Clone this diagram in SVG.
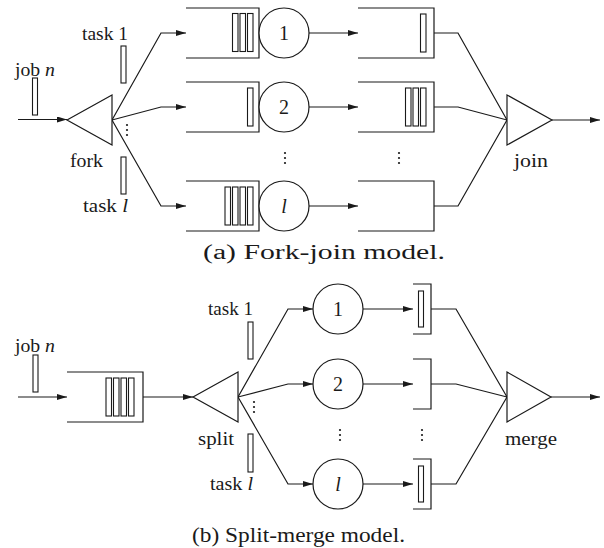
<svg xmlns="http://www.w3.org/2000/svg" width="604" height="548" viewBox="0 0 604 548">
  <style>
    .ln { fill: none; stroke: #1a1a1a; stroke-width: 1.2; }
    .arr { fill: none; stroke: #1a1a1a; stroke-width: 1.2; marker-end: url(#ah); }
    .shape { fill: #fff; stroke: #1a1a1a; stroke-width: 1.2; }
    .tok { fill: #fff; stroke: #1a1a1a; stroke-width: 1.1; }
    .lbl { font-family: "Liberation Serif", "Times New Roman", serif; font-size: 18.5px; fill: #1a1a1a; }
    .num { font-family: "Liberation Serif", "Times New Roman", serif; font-size: 20px; fill: #1a1a1a; text-anchor: middle; }
    .cap { font-family: "Liberation Serif", "Times New Roman", serif; font-size: 20px; fill: #1a1a1a; }
    .dot { fill: #1a1a1a; }
  </style>
  <defs>
    <marker id="ah" viewBox="0 0 10 6" refX="10" refY="3" markerWidth="10" markerHeight="6" markerUnits="userSpaceOnUse" orient="auto">
      <path d="M0,0 L10,3 L0,6 Z" fill="#1a1a1a"/>
    </marker>
    <g id="vdots">
      <circle cx="0" cy="0" r="1.1"/>
      <circle cx="0" cy="5" r="1.1"/>
      <circle cx="0" cy="10" r="1.1"/>
    </g>
    <rect id="tk" x="0" y="0" width="5.5" height="38"/>
  </defs>

  <!-- ================= (a) Fork-join model ================= -->
  <g id="connectors-a">
    <line class="arr" x1="18" y1="119.5" x2="67" y2="119.5"/>
    <polyline class="arr" points="112,120 161,33 186,33"/>
    <polyline class="arr" points="112,120 161,107 186,107"/>
    <polyline class="arr" points="112,120 161,206 186,206"/>
    <line class="arr" x1="309" y1="33" x2="358" y2="33"/>
    <line class="arr" x1="309" y1="107" x2="358" y2="107"/>
    <line class="arr" x1="309" y1="206" x2="358" y2="206"/>
    <polyline class="ln" points="434,33 458,33 507,120"/>
    <polyline class="ln" points="434,107 458,107 507,120"/>
    <polyline class="ln" points="434,206 458,206 507,120"/>
    <line class="arr" x1="552" y1="120" x2="600" y2="120"/>
  </g>

  <g id="job-a">
    <text class="lbl" x="15" y="76" textLength="40" lengthAdjust="spacingAndGlyphs">job <tspan font-style="italic">n</tspan></text>
    <rect class="tok" x="32.5" y="78" width="5" height="37"/>
  </g>

  <g id="fork">
    <polygon class="shape" points="67,120 112,95 112,145"/>
    <text class="lbl" x="70" y="167" textLength="33" lengthAdjust="spacingAndGlyphs">fork</text>
    <g class="dot"><use href="#vdots" x="127" y="125"/></g>
  </g>

  <g id="task1-a">
    <text class="lbl" x="82" y="40" textLength="46" lengthAdjust="spacingAndGlyphs">task 1</text>
    <rect class="tok" x="121" y="46" width="5" height="37"/>
  </g>
  <g id="taskl-a">
    <rect class="tok" x="121" y="157" width="5" height="37"/>
    <text class="lbl" x="83" y="212" textLength="45" lengthAdjust="spacingAndGlyphs">task <tspan font-style="italic">l</tspan></text>
  </g>

  <g id="queue1-a">
    <polyline class="ln" points="186,8 259,8 259,58 186,58"/>
    <use href="#tk" class="tok" x="232.5" y="13.5"/>
    <use href="#tk" class="tok" x="240" y="13.5"/>
    <use href="#tk" class="tok" x="247.5" y="13.5"/>
  </g>
  <g id="server1-a">
    <circle class="shape" cx="284" cy="33" r="25"/>
    <text class="num" x="284" y="40">1</text>
  </g>

  <g id="queue2-a">
    <polyline class="ln" points="186,82 259,82 259,132 186,132"/>
    <use href="#tk" class="tok" x="247.5" y="88"/>
  </g>
  <g id="server2-a">
    <circle class="shape" cx="284" cy="107" r="25"/>
    <text class="num" x="284" y="114">2</text>
  </g>

  <g id="queuel-a">
    <polyline class="ln" points="186,181 259,181 259,231 186,231"/>
    <use href="#tk" class="tok" x="225" y="187"/>
    <use href="#tk" class="tok" x="232.5" y="187"/>
    <use href="#tk" class="tok" x="240" y="187"/>
    <use href="#tk" class="tok" x="247.5" y="187"/>
  </g>
  <g id="serverl-a">
    <circle class="shape" cx="284" cy="206" r="25"/>
    <text class="num" x="284" y="213" font-style="italic">l</text>
  </g>

  <g class="dot"><use href="#vdots" x="285" y="153"/></g>

  <g id="buffer1-a">
    <polyline class="ln" points="358,8 434,8 434,58 358,58"/>
    <use href="#tk" class="tok" x="420.5" y="14"/>
  </g>
  <g id="buffer2-a">
    <polyline class="ln" points="358,82 434,82 434,132 358,132"/>
    <use href="#tk" class="tok" x="405.5" y="88"/>
    <use href="#tk" class="tok" x="413" y="88"/>
    <use href="#tk" class="tok" x="420.5" y="88"/>
  </g>
  <g id="bufferl-a">
    <polyline class="ln" points="358,181 434,181 434,231 358,231"/>
  </g>

  <g class="dot"><use href="#vdots" x="399" y="153"/></g>

  <g id="join">
    <polygon class="shape" points="507,95 507,145 552,120"/>
    <text class="lbl" x="514" y="167" textLength="34" lengthAdjust="spacingAndGlyphs">join</text>
  </g>

  <text class="cap" x="203" y="259" textLength="242" lengthAdjust="spacingAndGlyphs">(a)  Fork-join model.</text>

  <!-- ================= (b) Split-merge model ================= -->
  <g id="connectors-b">
    <line class="arr" x1="18" y1="397" x2="67" y2="397"/>
    <line class="arr" x1="143" y1="397" x2="193" y2="397"/>
    <polyline class="arr" points="238,397 288,309 313,309"/>
    <polyline class="arr" points="238,397 288,384 313,384"/>
    <polyline class="arr" points="238,397 288,484 313,484"/>
    <line class="arr" x1="363" y1="309" x2="413" y2="309"/>
    <line class="arr" x1="363" y1="384" x2="413" y2="384"/>
    <line class="arr" x1="363" y1="484" x2="413" y2="484"/>
    <polyline class="ln" points="431,309 456,309 507,397"/>
    <polyline class="ln" points="431,384 456,384 507,397"/>
    <polyline class="ln" points="431,484 456,484 507,397"/>
    <line class="arr" x1="551" y1="397" x2="600" y2="397"/>
  </g>

  <g id="job-b">
    <text class="lbl" x="15" y="352" textLength="40" lengthAdjust="spacingAndGlyphs">job <tspan font-style="italic">n</tspan></text>
    <rect class="tok" x="33" y="355" width="5" height="37"/>
  </g>

  <g id="queue-b">
    <polyline class="ln" points="67,372 143,372 143,422 67,422"/>
    <use href="#tk" class="tok" x="106" y="378"/>
    <use href="#tk" class="tok" x="113.5" y="378"/>
    <use href="#tk" class="tok" x="121" y="378"/>
    <use href="#tk" class="tok" x="128.5" y="378"/>
  </g>

  <g id="split">
    <polygon class="shape" points="193,397 238,372 238,422"/>
    <text class="lbl" x="198" y="445" textLength="36" lengthAdjust="spacingAndGlyphs">split</text>
    <g class="dot"><use href="#vdots" x="254" y="402"/></g>
  </g>

  <g id="task1-b">
    <text class="lbl" x="208" y="315" textLength="45" lengthAdjust="spacingAndGlyphs">task 1</text>
    <rect class="tok" x="248" y="322" width="5" height="37"/>
  </g>
  <g id="taskl-b">
    <rect class="tok" x="248" y="434" width="5" height="38"/>
    <text class="lbl" x="210" y="490" textLength="43" lengthAdjust="spacingAndGlyphs">task <tspan font-style="italic">l</tspan></text>
  </g>

  <g id="server1-b">
    <circle class="shape" cx="338" cy="309" r="25"/>
    <text class="num" x="338" y="316">1</text>
  </g>
  <g id="server2-b">
    <circle class="shape" cx="338" cy="384" r="25"/>
    <text class="num" x="338" y="391">2</text>
  </g>
  <g id="serverl-b">
    <circle class="shape" cx="338" cy="484" r="25"/>
    <text class="num" x="338" y="491" font-style="italic">l</text>
  </g>

  <g class="dot"><use href="#vdots" x="340" y="430"/></g>

  <g id="buffer1-b">
    <polyline class="ln" points="413,284 431,284 431,334 413,334"/>
    <rect class="tok" x="418.5" y="291" width="5" height="36"/>
  </g>
  <g id="buffer2-b">
    <polyline class="ln" points="413,359 431,359 431,409 413,409"/>
  </g>
  <g id="bufferl-b">
    <polyline class="ln" points="413,459 431,459 431,509 413,509"/>
    <rect class="tok" x="418.5" y="466" width="5" height="36"/>
  </g>

  <g class="dot"><use href="#vdots" x="422" y="430"/></g>

  <g id="merge">
    <polygon class="shape" points="507,372 507,422 551,397"/>
    <text class="lbl" x="505" y="445" textLength="52" lengthAdjust="spacingAndGlyphs">merge</text>
  </g>

  <text class="cap" x="192" y="542" textLength="213" lengthAdjust="spacingAndGlyphs">(b) Split-merge model.</text>
</svg>
